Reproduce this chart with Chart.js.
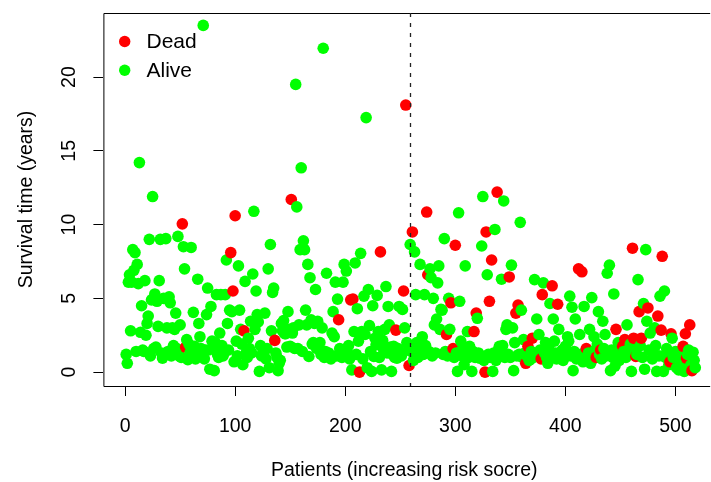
<!DOCTYPE html>
<html lang="en">
<head>
<meta charset="UTF-8">
<title>Survival time by patient risk</title>
<script src="https://cdn.jsdelivr.net/npm/chart.js"></script>
<style>
    html, body { margin: 0; padding: 0; background: #fff; }
    #wrap { width: 711px; height: 482px; overflow: hidden; }
</style>
</head>
<body>
<div id="wrap"><canvas id="riskPlot" width="711" height="482"></canvas></div>
<script>
    // Survival time (years) per patient, patients ordered by increasing risk score
    const survivalYears = [
        1.2, 0.6, 6.1, 6.6, 2.8, 6.1, 8.3, 6.9, 8.1, 1.4,
        7.3, 6.0, 14.2, 2.7, 4.5, 1.5, 1.4, 6.2, 2.5, 3.3,
        3.8, 9.0, 1.1, 4.9, 11.9, 1.6, 5.3, 1.7, 4.8, 3.1,
        6.2, 9.0, 1.3, 0.95, 5.0, 1.2, 9.05, 3.0, 1.4, 5.1,
        4.7, 1.1, 3.0, 1.8, 2.9, 4.0, 1.6, 9.2, 1.1, 3.2,
        1.0, 10.05, 8.5, 7.0, 1.7, 2.2, 0.85, 1.9, 1.3, 8.45,
        1.5, 4.05, 1.75, 0.9, 1.2, 6.3, 3.3, 2.4, 1.6, 1.4,
        23.5, 0.9, 1.5, 3.9, 5.7, 1.5, 0.2, 4.45, 2.1, 1.7,
        0.1, 2.0, 5.25, 1.2, 1.0, 2.65, 5.25, 1.8, 1.1, 1.3,
        5.25, 7.6, 3.3, 1.5, 4.2, 8.1, 4.1, 5.5, 0.7, 10.6,
        2.1, 1.1, 7.2, 4.2, 2.9, 1.9, 0.5, 2.8, 6.15, 1.3,
        1.0, 2.3, 1.6, 3.45, 1.3, 6.65, 10.9, 2.9, 5.5, 3.9,
        3.4, 0.05, 1.8, 1.1, 1.3, 1.3, 4.0, 0.9, 1.6, 7.0,
        0.3, 8.65, 2.8, 5.4, 5.7, 2.15, 1.3, 1.0, 0.1, 0.6,
        0.8, 3.3, 2.8, 3.5, 2.6, 2.6, 1.7, 4.1, 2.9, 1.75,
        11.7, 2.65, 3.0, 1.6, 19.5, 11.2, 1.6, 3.2, 8.3, 13.85,
        1.4, 8.9, 8.3, 4.2, 3.2, 7.3, 1.06, 6.4, 3.55, 1.9,
        2.0, 3.3, 5.6, 1.6, 3.45, 1.6, 2.0, 1.2, 3.0, 21.95,
        1.0, 1.4, 6.7, 1.2, 1.3, 1.1, 0.9, 2.65, 4.1, 2.4,
        6.1, 1.1, 4.95, 3.55, 1.6, 1.2, 1.0, 6.1, 7.3, 1.4,
        6.85, 1.3, 1.8, 0.9, 4.9, 0.15, 4.95, 2.75, 7.4, 1.2,
        4.3, 2.1, 0.0, 8.05, 2.75, 0.9, 5.15, 2.55, 17.25, 0.3,
        5.6, 3.15, 1.4, 0.05, 4.5, 1.06, 2.3, 1.85, 5.2, 2.75,
        1.0, 8.15, 0.15, 2.15, 1.5, 2.9, 5.8, 1.3, 4.45, 3.2,
        1.7, 0.05, 1.2, 1.75, 1.0, 2.85, 0.95, 1.6, 4.45, 1.3,
        1.1, 4.25, 5.5, 3.0, 18.1, 2.0, 1.5, 0.45, 8.65, 1.4,
        9.5, 0.8, 8.15, 5.25, 2.0, 1.0, 1.3, 7.3, 1.6, 2.4,
        1.2, 5.25, 1.8, 10.85, 6.6, 1.4, 7.0, 6.4, 1.1, 5.0,
        3.2, 1.3, 3.6, 6.05, 7.2, 2.9, 4.25, 4.2, 1.2, 9.05,
        1.4, 2.55, 1.1, 5.0, 2.9, 4.7, 1.3, 1.6, 1.0, 8.6,
        1.3, 0.05, 10.8, 4.8, 2.1, 1.5, 1.06, 0.5, 7.2, 1.4,
        2.75, 1.0, 1.75, 1.2, 0.05, 1.4, 2.75, 1.0, 4.0, 3.65,
        1.3, 0.95, 1.1, 8.55, 11.9, 0.8, 0.0, 9.5, 6.6, 1.2,
        4.8, 1.0, 7.6, 0.05, 1.3, 9.67, 0.8, 12.2, 1.5, 1.75,
        1.1, 6.3, 1.8, 11.6, 1.0, 2.9, 3.2, 1.2, 6.45, 1.0,
        7.25, 3.0, 0.1, 2.0, 4.0, 1.1, 4.55, 1.2, 10.15, 4.2,
        1.0, 2.2, 1.3, 0.6, 1.1, 1.75, 0.8, 0.85, 1.4, 2.3,
        1.0, 6.27, 1.2, 3.6, 1.1, 2.55, 1.5, 0.9, 5.25, 6.05,
        1.3, 2.0, 1.0, 0.6, 1.6, 4.65, 1.1, 5.85, 3.6, 2.1,
        1.3, 0.9, 4.6, 2.9, 1.2, 1.06, 1.5, 0.8, 1.0, 1.75,
        1.3, 2.4, 2.1, 5.15, 1.1, 4.4, 0.1, 1.4, 3.6, 0.9,
        1.06, 7.0, 2.55, 1.2, 6.8, 0.7, 4.45, 1.2, 1.6, 0.9,
        1.3, 2.9, 0.6, 5.05, 1.2, 2.4, 1.5, 1.0, 1.9, 4.1,
        1.2, 1.5, 0.9, 3.45, 1.6, 2.55, 1.1, 6.7, 1.3, 7.25,
        0.1, 1.5, 1.0, 5.3, 0.4, 2.9, 1.2, 2.0, 0.8, 1.5,
        1.1, 1.75, 1.4, 2.2, 1.0, 3.2, 1.3, 1.6, 1.9, 0.05,
        8.4, 2.3, 1.5, 1.06, 1.2, 6.27, 4.1, 1.8, 2.3, 1.0,
        4.65, 0.2, 8.3, 3.45, 4.35, 1.5, 2.65, 1.4, 0.9, 1.2,
        3.0, 1.8, 0.05, 3.8, 1.1, 5.15, 2.85, 7.85, 0.05, 5.5,
        1.0, 1.6, 1.3, 0.5, 0.7, 2.6, 2.3, 1.0, 1.3, 1.4,
        0.3, 1.2, 0.15, 0.9, 1.0, 0.6, 1.75, 0.05, 2.6, 0.95,
        1.2, 1.5, 3.2, 0.5, 0.1, 1.35, 0.8, 0.3
    ];

    // Patient numbers (1-based) whose status is dead; everyone else is alive
    const deadPatients = [
        52, 55, 96, 98, 100, 108, 136, 151, 194, 205, 207, 213, 232, 246, 253,
        255, 258, 261, 274, 275, 292, 296, 298, 300, 317, 319, 327, 328, 331, 333,
        338, 349, 355, 357, 364, 366, 370, 378, 379, 388, 393, 412, 415, 419, 428,
        432, 446, 452, 454, 461, 462, 464, 467, 469, 475, 484, 487, 488, 495, 496,
        507, 509, 510, 513, 515
    ];

    const cutoffPatient = 259;          // median risk score split
    const xTicks = [0, 100, 200, 300, 400, 500];
    const yTicks = [0, 5, 10, 15, 20];
    const statusLabels = ['Dead', 'Alive'];

    const RED = '#ff0000';
    const GREEN = '#00ff00';
    const FONT = "'Liberation Sans', Arial, sans-serif";
    const AXIS_SIZE = 19.5;
    const LEGEND_SIZE = 21;

    const deadSet = new Set(deadPatients);
    const points = survivalYears.map((t, i) => ({ x: i + 1, y: t }));
    const pointColors = survivalYears.map((t, i) => deadSet.has(i + 1) ? RED : GREEN);

    // box, cutoff line, rotated y labels and legend
    const decorations = {
        id: 'decorations',
        afterDraw(chart) {
            const ctx = chart.ctx;
            const area = chart.chartArea;
            const xs = chart.scales.x;
            const ys = chart.scales.y;

            ctx.save();
            ctx.strokeStyle = '#000';
            ctx.lineWidth = 1;
            ctx.beginPath();
            ctx.moveTo(area.right + 5, area.top + 0.5);
            ctx.lineTo(area.left + 0.5, area.top + 0.5);
            ctx.lineTo(area.left + 0.5, area.bottom + 0.5);
            ctx.lineTo(area.right + 5, area.bottom + 0.5);
            ctx.stroke();

            const cx = Math.round(xs.getPixelForValue(cutoffPatient)) + 0.5;
            ctx.strokeStyle = '#222';
            ctx.lineWidth = 1.3;
            ctx.setLineDash([4, 6]);
            ctx.beginPath();
            ctx.moveTo(cx, area.top);
            ctx.lineTo(cx, area.bottom);
            ctx.stroke();
            ctx.setLineDash([]);

            // y tick labels read bottom to top
            ctx.fillStyle = '#000';
            ctx.font = AXIS_SIZE + 'px ' + FONT;
            ctx.textAlign = 'center';
            ctx.textBaseline = 'middle';
            yTicks.forEach(v => {
                ctx.save();
                ctx.translate(69, ys.getPixelForValue(v));
                ctx.rotate(-Math.PI / 2);
                ctx.fillText(String(v), 0, 1);
                ctx.restore();
            });

            // legend
            const colors = [RED, GREEN];
            ctx.font = LEGEND_SIZE + 'px ' + FONT;
            ctx.textAlign = 'left';
            statusLabels.forEach((label, i) => {
                const y = 41.5 + i * 28.8;
                ctx.fillStyle = colors[i];
                ctx.beginPath();
                ctx.arc(124.7, y, 5.7, 0, Math.PI * 2);
                ctx.fill();
                ctx.fillStyle = '#000';
                ctx.fillText(label, 146.5, y + 1);
            });
            ctx.restore();
        }
    };

    new Chart(document.getElementById('riskPlot'), {
        type: 'scatter',
        data: {
            datasets: [{
                data: points,
                pointBackgroundColor: pointColors,
                pointBorderWidth: 0,
                pointRadius: 5.8,
                pointHoverRadius: 5.8
            }]
        },
        options: {
            responsive: false,
            animation: false,
            devicePixelRatio: 1,
            layout: { padding: { top: 13, right: 0, bottom: 0, left: 0 } },
            plugins: {
                legend: { display: false },
                tooltip: { enabled: false }
            },
            scales: {
                x: {
                    type: 'linear',
                    min: -19.7,
                    max: 527,
                    afterBuildTicks: s => { s.ticks = xTicks.map(v => ({ value: v })); },
                    afterFit: s => { s.height = 96; },
                    border: { display: false },
                    grid: { drawOnChartArea: false, tickLength: 10, tickColor: '#000', tickWidth: 1 },
                    ticks: {
                        color: '#000',
                        autoSkip: false,
                        maxRotation: 0,
                        padding: 19,
                        font: { family: FONT, size: AXIS_SIZE }
                    },
                    title: {
                        display: true,
                        text: 'Patients (increasing risk socre)',
                        color: '#000',
                        font: { family: FONT, size: AXIS_SIZE },
                        padding: { top: 0, bottom: 0 }
                    }
                },
                y: {
                    type: 'linear',
                    min: -0.94,
                    max: 24.34,
                    afterBuildTicks: s => { s.ticks = yTicks.map(v => ({ value: v })); },
                    afterFit: s => { s.width = 103.4; },
                    border: { display: false },
                    grid: { drawOnChartArea: false, tickLength: 10, tickColor: '#000', tickWidth: 1 },
                    ticks: { display: false },
                    title: {
                        display: true,
                        text: 'Survival time (years)',
                        color: '#000',
                        font: { family: FONT, size: AXIS_SIZE },
                        padding: { top: 14.5, bottom: 0 }
                    }
                }
            }
        },
        plugins: [decorations]
    });
</script>
</body>
</html>
